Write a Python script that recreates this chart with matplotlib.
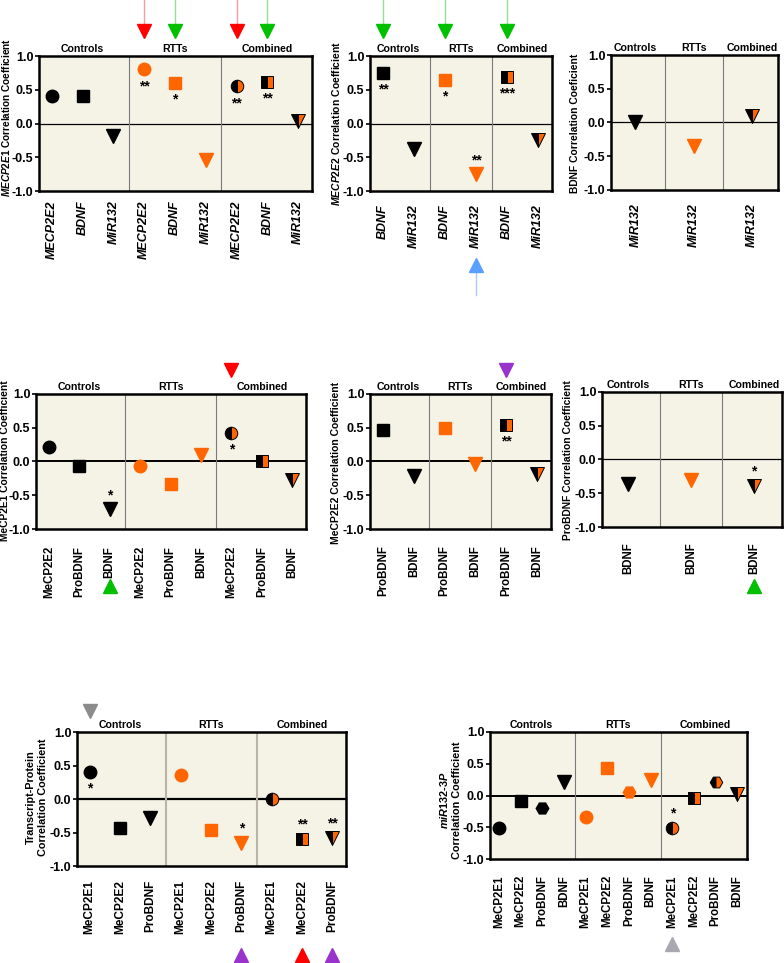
import matplotlib
matplotlib.use("Agg")
import matplotlib.pyplot as plt
from matplotlib.ticker import FormatStrFormatter
from matplotlib.transforms import ScaledTranslation

plt.rcParams['font.family'] = ['Liberation Sans', 'DejaVu Sans']
plt.rcParams['font.weight'] = 'bold'
plt.rcParams['axes.unicode_minus'] = False
plt.rcParams['mathtext.fontset'] = 'custom'
plt.rcParams['mathtext.it'] = 'Liberation Sans:italic:bold'
plt.rcParams['mathtext.rm'] = 'Liberation Sans:bold'

W, H = 784, 963
ORANGE = '#ff6600'
BG = '#f5f2e6'
GROUPS = ['Controls', 'RTTs', 'Combined']

# panel 1: MECP2E1 transcript
p1_labels = ['MECP2E2', 'BDNF', 'MiR132'] * 3
p1_values = [0.40, 0.40, -0.18, 0.80, 0.60, -0.54, 0.55, 0.62, 0.03]
p1_stars = ['', '', '', '**', '*', '', '**', '**', '']

# panel 2: MECP2E2 transcript
p2_labels = ['BDNF', 'MiR132'] * 3
p2_values = [0.75, -0.38, 0.64, -0.75, 0.69, -0.25]
p2_stars = ['**', '', '*', '**', '***', '']

# panel 3: BDNF transcript
p3_labels = ['MiR132'] * 3
p3_values = [0.01, -0.35, 0.10]
p3_stars = ['', '', '']

# panel 4: MeCP2E1 protein
p4_labels = ['MeCP2E2', 'ProBDNF', 'BDNF'] * 3
p4_values = [0.21, -0.07, -0.71, -0.06, -0.34, 0.10, 0.42, 0.00, -0.28]
p4_stars = ['', '', '*', '', '', '', '*', '', '']

# panel 5: MeCP2E2 protein
p5_labels = ['ProBDNF', 'BDNF'] * 3
p5_values = [0.47, -0.22, 0.50, -0.03, 0.54, -0.19]
p5_stars = ['', '', '', '', '**', '']

# panel 6: ProBDNF protein
p6_labels = ['BDNF'] * 3
p6_values = [-0.36, -0.31, -0.39]
p6_stars = ['', '', '*']

# panel 7: transcript vs protein
p7_labels = ['MeCP2E1', 'MeCP2E2', 'ProBDNF'] * 3
p7_values = [0.40, -0.43, -0.29, 0.36, -0.46, -0.65, 0.00, -0.59, -0.58]
p7_stars = ['*', '', '', '', '', '*', '', '**', '**']

# panel 8: miR132-3P
p8_labels = ['MeCP2E1', 'MeCP2E2', 'ProBDNF', 'BDNF'] * 3
p8_values = [-0.51, -0.08, -0.19, 0.22, -0.34, 0.44, 0.05, 0.24, -0.51, -0.04, 0.22, 0.03]
p8_stars = ['', '', '', '', '', '', '', '', '*', '', '', '']

fig = plt.figure(figsize=(W / 100, H / 100), dpi=100)
fig.patch.set_facecolor('white')


def add_panel(rect, labels, values, stars, shapes, italic=False, xpad=9,
              zero_lw=0.9, div_color='#7a7a7a', div_lw=0.8, xfs=9):
    l, t, r, b = rect
    ax = fig.add_axes([l / W, 1 - b / H, (r - l) / W, (b - t) / H])
    ax.set_facecolor(BG)
    n = len(labels)
    size = n // 3
    ax.set_xlim(-0.42, n - 1 + 0.45)
    ax.set_ylim(-1, 1)
    ax.set_yticks([-1, -0.5, 0, 0.5, 1])
    ax.yaxis.set_major_formatter(FormatStrFormatter('%.1f'))
    ax.tick_params(axis='y', length=3, width=1.2, pad=1, labelsize=9)
    ax.set_xticks(range(n))
    ax.set_xticklabels(labels, rotation=90, fontsize=xfs,
                       fontstyle='italic' if italic else 'normal')
    ax.tick_params(axis='x', length=0, pad=xpad * 0.72)
    for sp in ax.spines.values():
        sp.set_linewidth(1.8)
    ax.axhline(0, color='black', lw=zero_lw, zorder=1)
    for k in range(1, 3):
        ax.axvline(k * size - 0.5, color=div_color, lw=div_lw, zorder=1)
    for k, name in enumerate(GROUPS):
        ax.text(k * size + (size - 1) / 2, 1.012, name, transform=ax.get_xaxis_transform(),
                ha='center', va='bottom', fontsize=7.6)
    for i, (v, s) in enumerate(zip(values, stars)):
        m = shapes[i % size]
        ms = 10 if m == 'v' else 9
        g = i // size
        if g == 0:
            ax.plot(i, v, marker=m, ms=ms, color='black', ls='none', zorder=3)
        elif g == 1:
            ax.plot(i, v, marker=m, ms=ms, color=ORANGE, ls='none', zorder=3)
        else:
            ax.plot(i, v, marker=m, ms=ms, ls='none', fillstyle='left',
                    markerfacecolor='black', markerfacecoloralt=ORANGE,
                    markeredgecolor='black', markeredgewidth=0.7, zorder=3)
        if s:
            dy = 5 if v < 0 else -17
            ax.annotate(s, (i, v), xytext=(0, dy), textcoords='offset points',
                        ha='center', va='bottom', fontsize=10)
    return ax


def add_mark(ax, xi, dy_px, color, up=False, tail=None, tail_color=None):
    base = 0 if up else 1
    tr = ax.get_xaxis_transform() + ScaledTranslation(0, dy_px / 100, fig.dpi_scale_trans)
    if tail:
        y0 = base + dy_px / ax.bbox.height
        y1 = base + (dy_px + tail) / ax.bbox.height
        ax.plot([xi, xi], [y0, y1], transform=ax.get_xaxis_transform(), color=tail_color,
                lw=1, clip_on=False, zorder=0)
    ax.plot([xi], [base], marker='^' if up else 'v', ms=9.5, color=color,
            transform=tr, clip_on=False, ls='none')


def ylabel(x, y, text, fs=7.5):
    fig.text(x / W, 1 - y / H, text, rotation=90, ha='center', va='center',
             fontsize=fs, multialignment='center')


# row 1
ax1 = add_panel((39, 56, 312, 191), p1_labels, p1_values, p1_stars, ['o', 's', 'v'],
                italic=True, xpad=9)
ylabel(6, 117, r'$\mathit{MECP2E1}$ Correlation Coefficient', fs=7.2)
for xi, c, tc in [(3, '#ff0000', '#ff9a9a'), (4, '#00c000', '#90e090'),
                  (6, '#ff0000', '#ff9a9a'), (7, '#00c000', '#90e090')]:
    add_mark(ax1, xi, 25, c, tail=31, tail_color=tc)

ax2 = add_panel((370, 56, 552, 191), p2_labels, p2_values, p2_stars, ['s', 'v'],
                italic=True, xpad=13)
ylabel(336, 123, r'$\mathit{MECP2E2}$ Correlation Coefficient', fs=7.5)
for xi in [0, 2, 4]:
    add_mark(ax2, xi, 25, '#00c000', tail=31, tail_color='#90e090')
add_mark(ax2, 3, -74, '#5aa0ff', up=True, tail=-30, tail_color='#a8ccff')

ax3 = add_panel((611, 55, 778, 190), p3_labels, p3_values, p3_stars, ['v'],
                italic=True, xpad=13)
ylabel(575, 123, 'BDNF Correlation Coeficient', fs=7.4)

# row 2
ax4 = add_panel((36, 394, 306, 529), p4_labels, p4_values, p4_stars, ['o', 's', 'v'],
                xpad=17, zero_lw=1.4, xfs=8.3)
ylabel(5, 461, 'MeCP2E1 Correlation Coefficient', fs=7.4)
add_mark(ax4, 6, 24, '#ff0000')
add_mark(ax4, 2, -57, '#00c000', up=True)

ax5 = add_panel((370, 394, 551, 529), p5_labels, p5_values, p5_stars, ['s', 'v'],
                xpad=16, zero_lw=1.4, xfs=8.3)
ylabel(336, 463, 'MeCP2E2 Correlation Coefficient', fs=7.5)
add_mark(ax5, 4, 24, '#9933cc')

ax6 = add_panel((602, 392, 782, 527), p6_labels, p6_values, p6_stars, ['v'],
                xpad=15, xfs=8.3)
ylabel(568, 460, 'ProBDNF Correlation Coefficient', fs=7.4)
add_mark(ax6, 2, -59, '#00c000', up=True)

# row 3
ax7 = add_panel((77, 732, 346, 866), p7_labels, p7_values, p7_stars, ['o', 's', 'v'],
                xpad=14, zero_lw=1.6, div_color='#b8b4a8', div_lw=1.5, xfs=8.6)
ylabel(37, 797, 'Transcript-Protein\nCorrelation Coefficient', fs=7.8)
add_mark(ax7, 0, 21, '#8c8c8c')
add_mark(ax7, 5, -89, '#9933cc', up=True)
add_mark(ax7, 7, -89, '#ff0000', up=True)
add_mark(ax7, 8, -89, '#9933cc', up=True)

ax8 = add_panel((490, 732, 747, 859), p8_labels, p8_values, p8_stars, ['o', 's', 'H', 'v'],
                xpad=16, zero_lw=1.4, xfs=8.3)
ylabel(450, 800, '$\\mathit{miR132}$$\\mathit{\u2010}$$\\mathit{3P}$\nCorrelation Coefficient', fs=7.8)
add_mark(ax8, 8, -85, '#a8a8b0', up=True)

fig.savefig('out.png', dpi=100, facecolor='white')
